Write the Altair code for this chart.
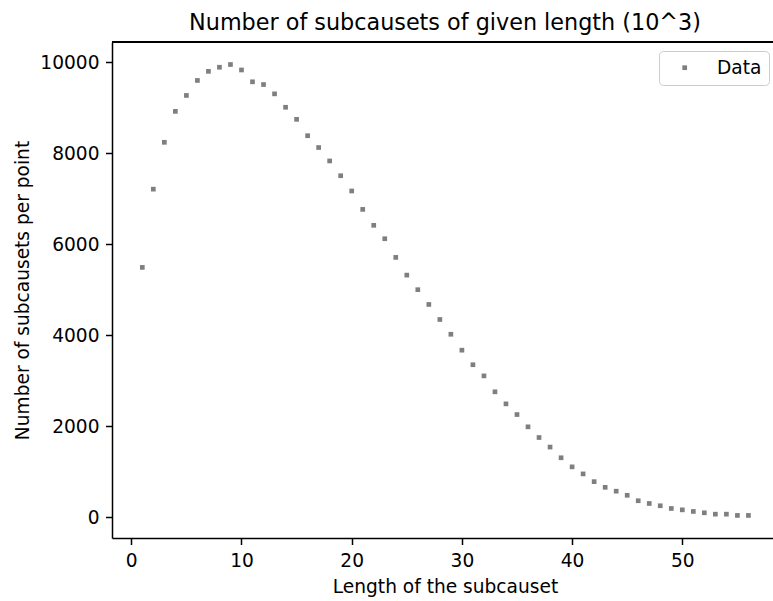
import altair as alt
import pandas as pd

lengths = [1, 2, 3, 4, 5, 6, 7, 8, 9, 10, 11, 12, 13, 14, 15, 16, 17, 18, 19, 20,
           21, 22, 23, 24, 25, 26, 27, 28, 29, 30, 31, 32, 33, 34, 35, 36, 37, 38, 39, 40,
           41, 42, 43, 44, 45, 46, 47, 48, 49, 50, 51, 52, 53, 54, 55, 56]
counts = [5490, 7210, 8240, 8920, 9270, 9600, 9800, 9890, 9950, 9830,
          9570, 9510, 9305, 9010, 8745, 8385, 8125, 7830, 7505, 7170,
          6765, 6415, 6120, 5710, 5320, 5000, 4675, 4345, 4020, 3670,
          3350, 3105, 2755, 2490, 2255, 1985, 1750, 1540, 1305, 1105,
          950, 780, 655, 570, 480, 360, 300, 250, 190, 160,
          125, 95, 65, 65, 37, 37]
series = ["Data"] * len(lengths)
x_ticks = [0, 10, 20, 30, 40, 50]
y_ticks = [0, 2000, 4000, 6000, 8000, 10000]

df = pd.DataFrame({"length": lengths, "count": counts, "series": series})

FONT = "DejaVu Sans"
W, H = 661, 496

points = alt.Chart(df).mark_square(size=22, opacity=1).encode(
    x=alt.X("length:Q",
            scale=alt.Scale(domain=[-1.75, 58.23], nice=False, zero=False),
            axis=alt.Axis(values=x_ticks, title="Length of the subcauset",
                          titleX=333, titleY=54, titleBaseline="alphabetic",
                          titleAlign="center")),
    y=alt.Y("count:Q",
            scale=alt.Scale(domain=[-459, 10445], nice=False, zero=False),
            axis=alt.Axis(values=y_ticks, format="d",
                          title="Number of subcausets per point",
                          titleAngle=270, titleX=-84, titleY=H / 2,
                          titleAlign="center", titleBaseline="alphabetic")),
    color=alt.Color("series:N", scale=alt.Scale(range=["#7f7f7f"]),
                    legend=alt.Legend(title=None, orient="none",
                                      legendX=547, legendY=9,
                                      symbolType="square", symbolSize=22,
                                      symbolStrokeWidth=0,
                                      symbolOffset=9, labelOffset=23,
                                      padding=7.4, cornerRadius=4,
                                      strokeColor="#cccccc", fillColor="white",
                                      labelFont=FONT, labelFontSize=18.6,
                                      labelColor="black")),
)

top_spine = alt.Chart(df).mark_rule(color="black", strokeWidth=1.5).encode(
    x=alt.value(0), x2=alt.value(W), y=alt.value(0)
)

chart = alt.layer(points, top_spine).properties(
    width=W, height=H,
    autosize=alt.AutoSizeParams(type="none"),
    padding={"left": 112, "top": 42, "right": 0, "bottom": 63},
    title=alt.TitleParams("Number of subcausets of given length (10^3)",
                          font=FONT, fontSize=22.3, fontWeight="normal",
                          color="black", anchor="middle", dx=2.5, dy=23,
                          baseline="alphabetic", offset=12),
).configure_view(stroke=None).configure_axis(
    grid=False, domainColor="black", domainWidth=1.5,
    tickColor="black", tickWidth=1.5, tickSize=6.5,
    labelFont=FONT, labelFontSize=18.6, labelColor="black", labelPadding=6.5,
    titleFont=FONT, titleFontSize=18.6, titleFontWeight="normal", titleColor="black",
    labelFlush=False, labelOverlap=False,
)

chart.save("out.html", embed_options={"renderer": "svg", "actions": False})
